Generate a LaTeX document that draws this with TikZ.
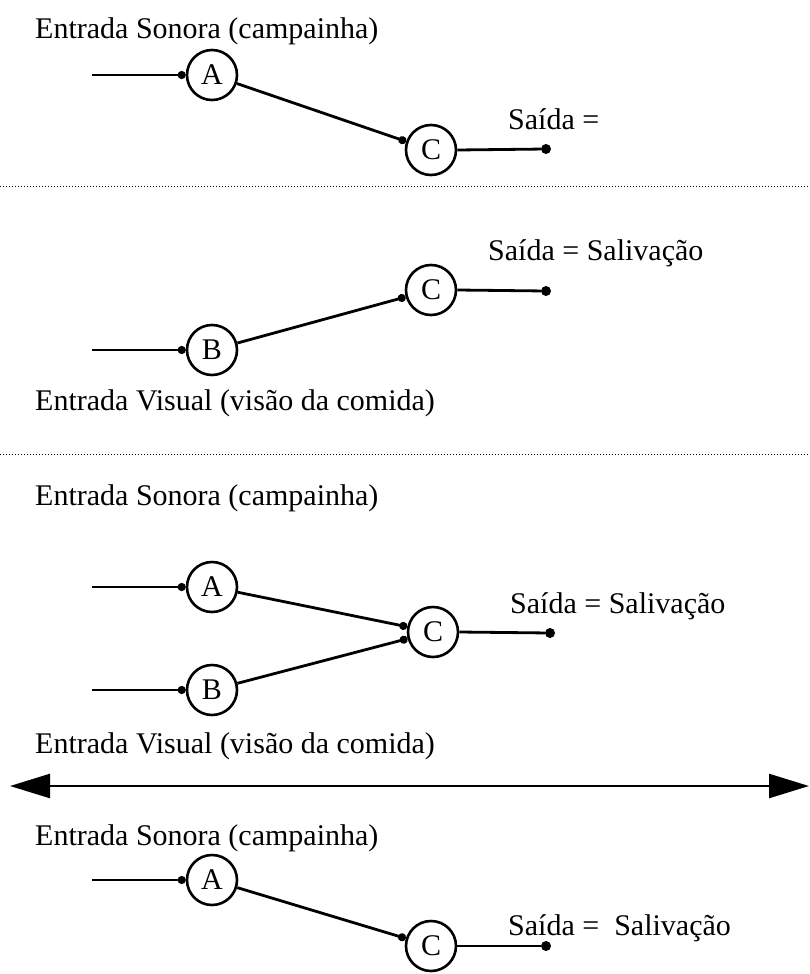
\documentclass[tikz,border=0pt]{standalone}
\usepackage{fontspec}
\setmainfont{Liberation Serif}
\usetikzlibrary{arrows.meta}
\begin{document}
\begin{tikzpicture}[x=1pt,y=-1pt,
  neuron/.style={circle,draw,line width=2.6pt,minimum size=50pt,inner sep=0pt,font=\fontsize{30}{34}\selectfont},
  lbl/.style={anchor=base west,inner sep=0pt,font=\fontsize{30}{34}\selectfont},
  wire/.style={line width=2.8pt},
  jn/.style={-{Circle[length=8pt]}},
  enddot/.style={circle,fill,inner sep=0pt,minimum size=10pt},
  sep/.style={dotted,line width=1pt}]
\useasboundingbox (0,0) rectangle (809,974);

% Panel 1
\node[lbl] (t1) at (35,39) {Entrada Sonora (campainha)};
\coordinate (in1) at (92,75);
\node[neuron] (a1) at (212,75) {A};
\node[neuron] (c1) at (431,150) {C};
\node[enddot] (o1) at (546,149) {};
\node[lbl] (s1) at (508,129) {Saída =};
\draw[wire,jn] (in1) -- (a1);
\draw[wire,jn] (a1) -- (c1);
\draw[wire] (c1.east) -- (o1);

\coordinate (d1l) at (0,186);
\coordinate (d1r) at (809,186);
\draw[sep] (d1l) -- (d1r);

% Panel 2
\node[lbl] (s2) at (488,260) {Saída = Salivação};
\node[neuron] (c2) at (431,290) {C};
\node[enddot] (o2) at (546,291) {};
\node[neuron] (b2) at (212,350) {B};
\coordinate (in2) at (92,350);
\node[lbl] (t2) at (35,410) {Entrada Visual (visão da comida)};
\draw[wire,jn] (in2) -- (b2);
\draw[wire,jn] (b2) -- (c2);
\draw[wire] (c2.east) -- (o2);

\coordinate (d2l) at (0,454);
\coordinate (d2r) at (809,454);
\draw[sep] (d2l) -- (d2r);

% Panel 3
\node[lbl] (t3) at (35,505) {Entrada Sonora (campainha)};
\coordinate (in3a) at (92,587);
\node[neuron] (a3) at (212,587) {A};
\node[neuron] (b3) at (212,690) {B};
\coordinate (in3b) at (92,690);
\node[neuron] (c3) at (433,632) {C};
\node[enddot] (o3) at (550,633) {};
\node[lbl] (s3) at (510,613) {Saída = Salivação};
\node[lbl] (t4) at (35,753) {Entrada Visual (visão da comida)};
\draw[wire,jn] (in3a) -- (a3);
\draw[wire,jn] (in3b) -- (b3);
\draw[wire,jn] (a3) -- (c3);
\draw[wire,jn] (b3) -- (c3);
\draw[wire] (c3.east) -- (o3);

% double arrow
\coordinate (al) at (10,786);
\coordinate (ar) at (809,786);
\draw[line width=2.5pt,{Triangle[length=40pt,width=24pt]}-{Triangle[length=40pt,width=24pt]}] (al) -- (ar);

% Panel 4
\node[lbl] (t5) at (35,845) {Entrada Sonora (campainha)};
\coordinate (in4) at (92,880);
\node[neuron] (a4) at (212,880) {A};
\node[neuron] (c4) at (431,946) {C};
\node[enddot] (o4) at (546,946) {};
\node[lbl] (s4) at (508,935) {Saída =\ \ Salivação};
\draw[wire,jn] (in4) -- (a4);
\draw[wire,jn] (a4) -- (c4);
\draw[wire] (c4.east) -- (o4);
\end{tikzpicture}
\end{document}
